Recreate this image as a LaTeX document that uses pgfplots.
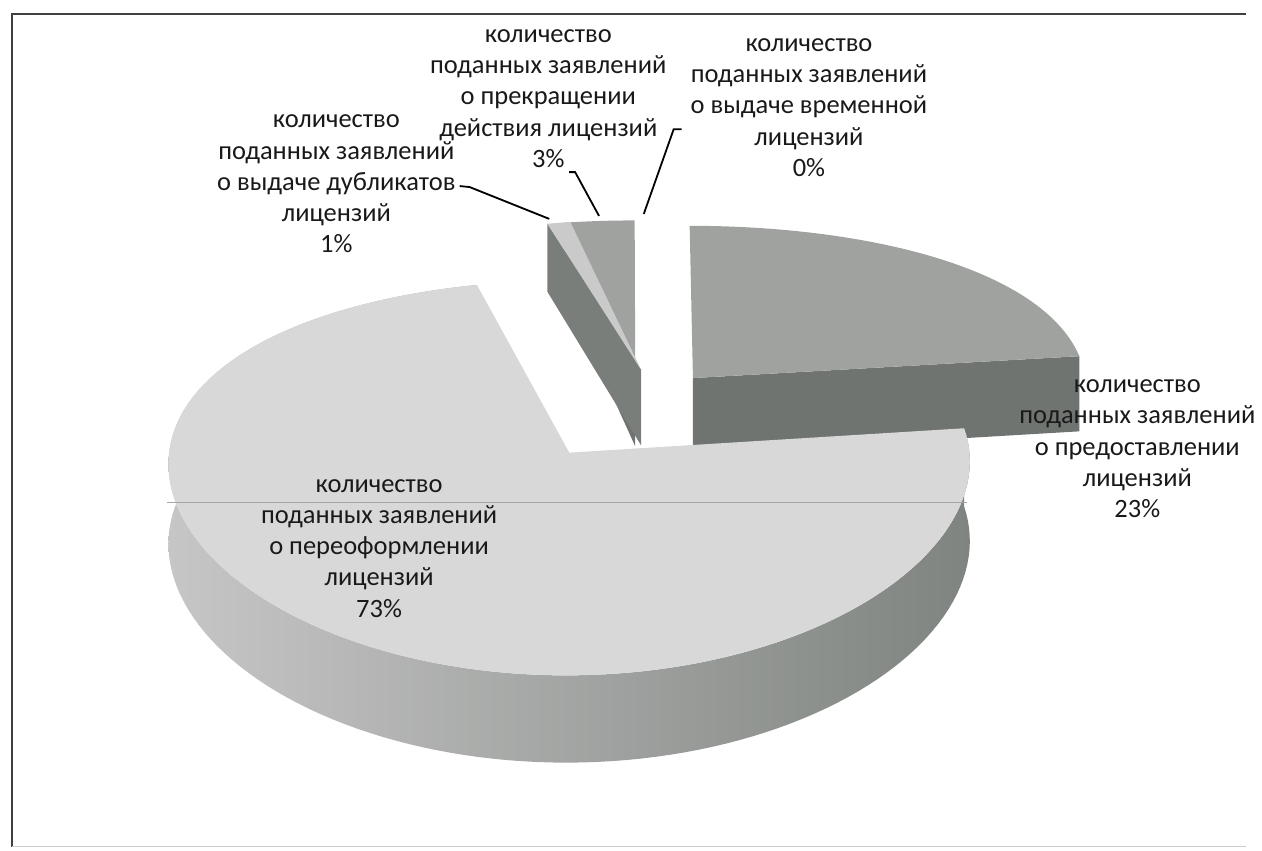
\documentclass[border=0pt]{standalone}
\usepackage{pgfplots}
\pgfplotsset{compat=1.18}
\usepackage{pgfplotstable}
\usepackage{fontspec}
\setmainfont{Carlito}

\definecolor{topBig}{HTML}{D8D8D8}
\definecolor{rimL}{HTML}{C6C6C6}
\definecolor{rimR}{HTML}{7F8480}
\definecolor{topMid}{HTML}{A0A2A0}
\definecolor{faceMid}{HTML}{6F7470}
\definecolor{topSmall}{HTML}{C9CAC9}
\definecolor{faceSmall}{HTML}{7A7E7B}

% slice data: percent, explosion offset (du, dv) in pie radii
\pgfplotstableread{
pct du dv
23 0.177 0.1875
73 -0.1355 -0.21
1 0.045 0.235
3 0.03 0.23
0 0 0
}\piedata

% projection of the tilted pie onto the picture (pixel units)
\pgfmathdeclarefunction{PX}{2}{\pgfmathparse{626.6+398*(#1)/(1+0.05*(#2))}}
\pgfmathdeclarefunction{PY}{2}{\pgfmathparse{414.3-187.9*(#1)+25.35*(#1)*(#1)+(#2)*(78-8*(#1))}}

\newcommand\apx[3]{%
  \pgfmathsetmacro\xx{PX(#1,#2)}\pgfmathsetmacro\yy{PY(#2,#3)}%
  \xdef\pts{\pts(\xx,\yy)}}
\newcommand\rimpt[4]{%
  \pgfmathsetmacro\uu{#1+cos(#3)}\pgfmathsetmacro\vv{#2+sin(#3)}%
  \pgfmathsetmacro\xx{PX(\uu,\vv)}\pgfmathsetmacro\yy{PY(\vv,#4)}%
  \xdef\pts{\pts(\xx,\yy)}}
\newcommand\arcpts[6]{%
  \pgfmathsetmacro\stp{(#4-#3)/#6}%
  \foreach \i in {0,...,#6}{\pgfmathsetmacro\ang{#3+\stp*\i}\rimpt{#1}{#2}{\ang}{#5}}}

% read data
\pgfplotstablegetelem{0}{pct}\of\piedata\edef\pA{\pgfplotsretval}
\pgfplotstablegetelem{0}{du}\of\piedata\edef\uA{\pgfplotsretval}
\pgfplotstablegetelem{0}{dv}\of\piedata\edef\vA{\pgfplotsretval}
\pgfplotstablegetelem{1}{pct}\of\piedata\edef\pB{\pgfplotsretval}
\pgfplotstablegetelem{1}{du}\of\piedata\edef\uB{\pgfplotsretval}
\pgfplotstablegetelem{1}{dv}\of\piedata\edef\vB{\pgfplotsretval}
\pgfplotstablegetelem{2}{pct}\of\piedata\edef\pC{\pgfplotsretval}
\pgfplotstablegetelem{2}{du}\of\piedata\edef\uC{\pgfplotsretval}
\pgfplotstablegetelem{2}{dv}\of\piedata\edef\vC{\pgfplotsretval}
\pgfplotstablegetelem{3}{pct}\of\piedata\edef\pD{\pgfplotsretval}
\pgfplotstablegetelem{3}{du}\of\piedata\edef\uD{\pgfplotsretval}
\pgfplotstablegetelem{3}{dv}\of\piedata\edef\vD{\pgfplotsretval}

% angles (clockwise from 12 o'clock)
\pgfmathsetmacro\aA{90-3.6*\pA}
\pgfmathsetmacro\aB{\aA-3.6*\pB}
\pgfmathsetmacro\aC{\aB-3.6*\pC}
\pgfmathsetmacro\aD{\aC-3.6*\pD}

% 23% slice [aA,90]
\gdef\pts{}\apx{\uA}{\vA}{0}\arcpts{\uA}{\vA}{\aA}{90}{0}{40}\global\let\topA\pts
\gdef\pts{}\apx{\uA}{\vA}{0}\rimpt{\uA}{\vA}{\aA}{0}\rimpt{\uA}{\vA}{\aA}{1}\apx{\uA}{\vA}{1}\global\let\faceA\pts
% 73% slice [aB,aA]
\gdef\pts{}\apx{\uB}{\vB}{0}\arcpts{\uB}{\vB}{\aB}{\aA}{0}{130}\global\let\topB\pts
\gdef\pts{}\arcpts{\uB}{\vB}{\aB}{\aA}{0}{130}\arcpts{\uB}{\vB}{\aA}{\aB}{1}{130}\global\let\rimB\pts
% 1% slice [aC,aB]
\gdef\pts{}\apx{\uC}{\vC}{0}\arcpts{\uC}{\vC}{\aC}{\aB}{0}{4}\global\let\topC\pts
\gdef\pts{}\apx{\uC}{\vC}{0}\rimpt{\uC}{\vC}{\aB}{0}\rimpt{\uC}{\vC}{\aB}{1}\apx{\uC}{\vC}{1}\global\let\faceC\pts
% 3% slice [aD,aC]
\gdef\pts{}\apx{\uD}{\vD}{0}\arcpts{\uD}{\vD}{\aD}{\aC}{0}{8}\global\let\topD\pts
\gdef\pts{}\apx{\uD}{\vD}{0}\rimpt{\uD}{\vD}{\aC}{0}\rimpt{\uD}{\vD}{\aC}{1}\apx{\uD}{\vD}{1}\global\let\faceD\pts

\begin{document}
\begin{tikzpicture}
\begin{axis}[scale only axis, width=631pt, height=427.5pt,
  xmin=0, xmax=1262, ymin=0, ymax=855, y dir=reverse,
  hide axis, clip=false]
\path (axis cs:0,0) rectangle (axis cs:1262,855);
% frame
\addplot[draw=black!75, line width=0.7pt] coordinates {(12,851) (12,14) (1252,14)};
\addplot[draw=black!20, line width=0.5pt] coordinates {(12,851) (1252,851)};
% 3% slice
\edef\doplot{\noexpand\addplot[fill=faceMid, draw=none] coordinates {\faceD};}\doplot
\edef\doplot{\noexpand\addplot[fill=topMid, draw=none] coordinates {\topD};}\doplot
% 1% slice
\edef\doplot{\noexpand\addplot[fill=faceSmall, draw=none] coordinates {\faceC};}\doplot
\edef\doplot{\noexpand\addplot[fill=topSmall, draw=none] coordinates {\topC};}\doplot
% 23% slice
\edef\doplot{\noexpand\addplot[fill=faceMid, draw=none] coordinates {\faceA};}\doplot
\edef\doplot{\noexpand\addplot[fill=topMid, draw=none] coordinates {\topA};}\doplot
% 73% slice
\edef\doplot{\noexpand\addplot[left color=rimL, right color=rimR, draw=none] coordinates {\rimB};}\doplot
\edef\doplot{\noexpand\addplot[fill=topBig, draw=none] coordinates {\topB};}\doplot
\addplot[draw=black!35, line width=0.3pt] coordinates {(168,505) (972,505)};
% leader lines
\addplot[draw=black, line width=0.9pt] coordinates {(462,187) (472,188) (552,220)};
\addplot[draw=black, line width=0.9pt] coordinates {(572,173) (578,173) (602,217)};
\addplot[draw=black, line width=0.9pt] coordinates {(647,215) (677,130) (685,130)};
% labels
\begin{scope}[every node/.style={align=center, font=\fontsize{13.3}{15.7}\selectfont, text=black!90}]
\node at (axis cs:338,185) {количество\\поданных заявлений\\о выдаче дубликатов\\лицензий\\1\%};
\node at (axis cs:551,99) {количество\\поданных заявлений\\о прекращении\\действия лицензий\\3\%};
\node at (axis cs:813,108) {количество\\поданных заявлений\\о выдаче временной\\лицензий\\0\%};
\node at (axis cs:1143,451) {количество\\поданных заявлений\\о предоставлении\\лицензий\\23\%};
\node at (axis cs:381,551) {количество\\поданных заявлений\\о переоформлении\\лицензий\\73\%};
\end{scope}
\end{axis}
\end{tikzpicture}
\end{document}
